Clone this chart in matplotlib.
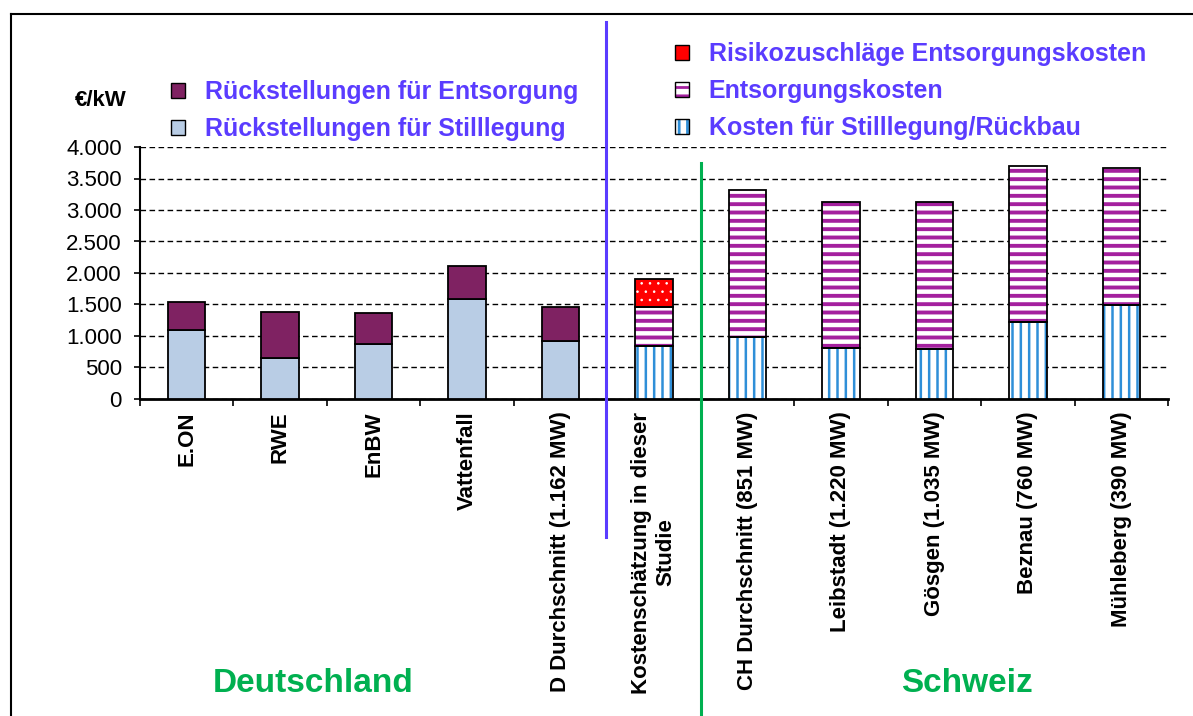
import matplotlib
matplotlib.use("Agg")
import matplotlib.pyplot as plt
from matplotlib.patches import Patch
from matplotlib.lines import Line2D
from matplotlib.legend_handler import HandlerTuple
import numpy as np

plt.rcParams['font.family'] = ['Liberation Sans', 'DejaVu Sans']
plt.rcParams['hatch.linewidth'] = 2.0

categories = ["E.ON", "RWE", "EnBW", "Vattenfall", "D Durchschnitt (1.162 MW)",
              "Kostenschätzung in dieser\nStudie",
              "CH Durchschnitt (851 MW)", "Leibstadt (1.220 MW)", "Gösgen (1.035 MW)",
              "Beznau (760 MW)", "Mühleberg (390 MW)"]

# German providers (first 5 categories)
de_stilllegung = [1100, 650, 870, 1580, 920]
de_entsorgung = [445, 730, 490, 530, 545]

# Study + Swiss (last 6 categories)
ch_stilllegung = [840, 980, 810, 790, 1220, 1490]
ch_entsorgung = [625, 2340, 2320, 2340, 2480, 2180]
ch_risiko = [435, 0, 0, 0, 0, 0]

yticks = [0, 500, 1000, 1500, 2000, 2500, 3000, 3500, 4000]
ytick_labels = ["0", "500", "1.000", "1.500", "2.000", "2.500", "3.000", "3.500", "4.000"]

W, H = 1193, 716
fig = plt.figure(figsize=(W / 100, H / 100), dpi=100)
ax = fig.add_axes([140 / W, 1 - 399 / H, 1028 / W, 252 / H])

x = np.arange(len(categories))
xd = x[:5]
xc = x[5:]
bw = 0.40

purple = "#7F2262"
lightblue = "#B9CDE5"
stripe_blue = "#2F8FD8"
stripe_mag = "#A4209E"
txtblue = "#5A3CFF"
green = "#00B050"

# German bars
ax.bar(xd, de_stilllegung, bw, color=lightblue, edgecolor="black", linewidth=1.3, zorder=3)
ax.bar(xd, de_entsorgung, bw, bottom=de_stilllegung, color=purple, edgecolor="black",
       linewidth=1.3, zorder=3)

# Swiss / study bars (hatched)
ch_s = np.array(ch_stilllegung)
ch_e = np.array(ch_entsorgung)
ch_r = np.array(ch_risiko)
with plt.rc_context({'hatch.linewidth': 1.8}):
    ax.bar(xc, ch_s, bw, color="white", edgecolor=stripe_blue, hatch="||", linewidth=0, zorder=3)
ax.bar(xc, ch_s, bw, color="none", edgecolor="black", linewidth=1.3, zorder=4)
with plt.rc_context({'hatch.linewidth': 2.8}):
    ax.bar(xc, ch_e, bw, bottom=ch_s, color="white", edgecolor=stripe_mag, hatch="--",
           linewidth=0, zorder=3)
ax.bar(xc, ch_e, bw, bottom=ch_s, color="none", edgecolor="black", linewidth=1.3, zorder=4)
mask = ch_r > 0
with plt.rc_context({'hatch.linewidth': 0.6}):
    ax.bar(xc[mask], ch_r[mask], bw, bottom=(ch_s + ch_e)[mask], color="#FF0000",
           edgecolor="white", hatch="..", linewidth=0, zorder=3)
ax.bar(xc[mask], ch_r[mask], bw, bottom=(ch_s + ch_e)[mask], color="none", edgecolor="black",
       linewidth=1.3, zorder=4)

ax.set_xlim(-0.5, len(categories) - 0.5)
ax.set_ylim(0, 4000)
ax.set_yticks(yticks)
ax.set_yticklabels(ytick_labels, fontsize=16)
ax.yaxis.grid(True, linestyle=(0, (4, 2.5)), color="black", linewidth=1.0, zorder=1)
ax.set_axisbelow(True)

ax.set_xticks(np.arange(-0.5, len(categories) - 0.4, 1.0))
ax.set_xticklabels([])
ax.set_xticks(x, minor=True)
ax.set_xticklabels(categories, minor=True, rotation=90, fontsize=16, fontweight="bold",
                   va="top", ha="center", multialignment="center")
ax.tick_params(axis="x", which="minor", length=0, pad=9)
ax.tick_params(axis="x", which="major", length=5, width=1.2, direction="out")
ax.tick_params(axis="y", length=4, width=1.2, direction="out", pad=9)

for s in ["top", "right"]:
    ax.spines[s].set_visible(False)
ax.spines["left"].set_linewidth(1.5)
ax.spines["bottom"].set_linewidth(2.0)

# Separator lines
fig.add_artist(Line2D([606 / W, 606 / W], [1 - 22 / H, 1 - 537 / H], color="#5A3CFF", linewidth=2.2))
fig.add_artist(Line2D([701 / W, 701 / W], [1 - 163 / H, 0], color=green, linewidth=2.2))

# Figure border lines
fig.add_artist(Line2D([11 / W, 11 / W], [0, 1 - 14 / H], color="black", linewidth=1.5))
fig.add_artist(Line2D([11 / W, 1], [1 - 14 / H, 1 - 14 / H], color="black", linewidth=1.5))

# Unit label
fig.text(101 / W, 1 - 100 / H, "€/kW", fontsize=16, fontweight="bold", ha="center", va="center")

# Legends
left_handles = [Patch(facecolor=purple, edgecolor="black", linewidth=1.0),
                Patch(facecolor=lightblue, edgecolor="black", linewidth=1.0)]
left_labels = ["Rückstellungen für Entsorgung", "Rückstellungen für Stilllegung"]
leg1 = fig.legend(left_handles, left_labels, loc="upper left",
                  bbox_to_anchor=(171 / W, 1 - 80 / H), frameon=False,
                  prop={"size": 18, "weight": "bold"}, labelcolor=txtblue,
                  handlelength=0.55, handleheight=0.55, handletextpad=0.8, labelspacing=0.52,
                  borderaxespad=0, borderpad=0)

frame = lambda: Patch(facecolor="none", edgecolor="black", linewidth=1.0)
right_handles = [(Patch(facecolor="#FF0000", edgecolor="none", linewidth=0), frame()),
                 (Patch(facecolor="white", edgecolor=stripe_mag, hatch="--", linewidth=0), frame()),
                 (Patch(facecolor="white", edgecolor=stripe_blue, hatch="||", linewidth=0), frame())]
right_labels = ["Risikozuschläge Entsorgungskosten", "Entsorgungskosten",
                "Kosten für Stilllegung/Rückbau"]
leg2 = fig.legend(right_handles, right_labels, loc="upper left",
                  bbox_to_anchor=(675 / W, 1 - 42 / H), frameon=False,
                  prop={"size": 18, "weight": "bold"}, labelcolor=txtblue,
                  handlelength=0.55, handleheight=0.55, handletextpad=0.8, labelspacing=0.52,
                  borderaxespad=0, borderpad=0,
                  handler_map={tuple: HandlerTuple(ndivide=1, pad=0)})

# Region labels
fig.text(313 / W, 1 - 683 / H, "Deutschland", fontsize=24, fontweight="bold", color=green,
         ha="center", va="center")
fig.text(967 / W, 1 - 683 / H, "Schweiz", fontsize=24, fontweight="bold", color=green,
         ha="center", va="center")

fig.savefig("out.png", dpi=100)
